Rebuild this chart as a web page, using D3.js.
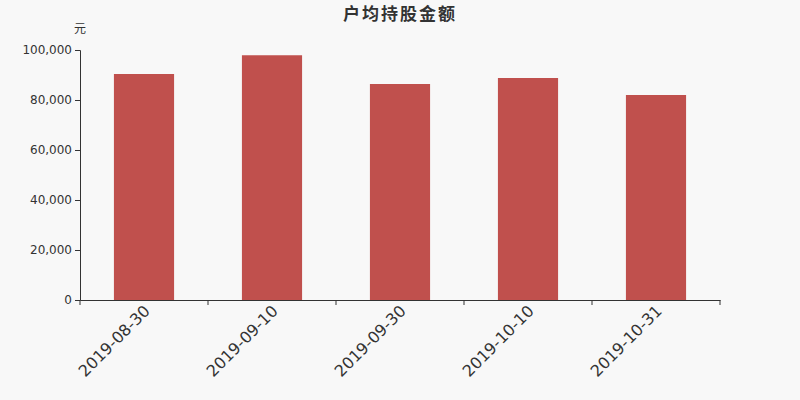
<!DOCTYPE html>
<html>
<head>
<meta charset="utf-8">
<script src="https://cdn.jsdelivr.net/npm/d3@7"></script>
<style>
  body { margin: 0; background: #f8f8f8; }
  svg { display: block; font-family: "DejaVu Sans", sans-serif; }
</style>
</head>
<body>
<div id="chart"></div>
<script>
// Data
const dates = ['2019-08-30', '2019-09-10', '2019-09-30', '2019-10-10', '2019-10-31'];
const amounts = [90400, 97900, 86400, 88800, 82000];
const yTicks = [0, 20000, 40000, 60000, 80000, 100000];

const width = 800;
const height = 400;
const margin = { top: 50, right: 80, bottom: 100, left: 80 };

const svg = d3.select('#chart')
  .append('svg')
    .attr('width', width)
    .attr('height', height);

svg.append('rect')
    .attr('width', width)
    .attr('height', height)
    .attr('fill', '#f8f8f8');

const x = d3.scaleBand()
  .domain(dates)
  .range([margin.left, width - margin.right])
  .paddingInner(0.53)
  .paddingOuter(0.265);

// band used for axis ticks (boundaries between categories)
const xAxisBand = d3.scaleBand()
  .domain(dates)
  .range([margin.left, width - margin.right]);

const y = d3.scaleLinear()
  .domain([0, 100000])
  .range([height - margin.bottom, margin.top]);

// Bars
svg.append('g')
  .selectAll('rect')
  .data(dates)
  .join('rect')
    .attr('x', d => x(d))
    .attr('y', (d, i) => y(amounts[i]))
    .attr('width', x.bandwidth())
    .attr('height', (d, i) => y(0) - y(amounts[i]))
    .attr('fill', '#c0504d');

// Y axis
const yAxis = svg.append('g')
    .attr('transform', `translate(${margin.left},0)`)
    .call(d3.axisLeft(y).tickValues(yTicks).tickSize(5).tickPadding(3).tickFormat(d3.format(',')))
    .attr('font-family', '"DejaVu Sans", sans-serif');
yAxis.selectAll('path, line').attr('stroke', '#333');
yAxis.selectAll('text').attr('fill', '#333').style('font-size', '12px');

// X axis
const xAxis = svg.append('g')
    .attr('transform', `translate(0,${height - margin.bottom})`)
    .call(d3.axisBottom(xAxisBand).tickSize(0).tickSizeOuter(0))
    .attr('font-family', '"DejaVu Sans", sans-serif');
xAxis.select('path').attr('stroke', '#333');
xAxis.selectAll('text')
    .attr('fill', '#333')
    .style('font-size', '16px')
    .attr('text-anchor', 'end')
    .attr('y', 0)
    .attr('dy', 0)
    .attr('transform', 'translate(7,12) rotate(-45)');

// tick marks on category boundaries
const boundaries = dates.map(d => xAxisBand(d)).concat([width - margin.right]);
svg.append('g')
  .selectAll('line')
  .data(boundaries)
  .join('line')
    .attr('x1', d => d)
    .attr('x2', d => d)
    .attr('y1', height - margin.bottom)
    .attr('y2', height - margin.bottom + 5)
    .attr('stroke', '#333');

// Title and unit
svg.append('text')
    .attr('x', width / 2)
    .attr('y', 20)
    .attr('text-anchor', 'middle')
    .attr('fill', '#333')
    .style('font-size', '17px')
    .style('font-weight', 'bold')
    .style('letter-spacing', '2px')
    .style('font-family', '"Noto Sans CJK SC", sans-serif')
    .text('户均持股金额');

svg.append('text')
    .attr('x', 80)
    .attr('y', 33)
    .attr('text-anchor', 'middle')
    .attr('fill', '#333')
    .style('font-size', '12px')
    .style('font-family', '"Noto Sans CJK SC", sans-serif')
    .text('元');
</script>
</body>
</html>
